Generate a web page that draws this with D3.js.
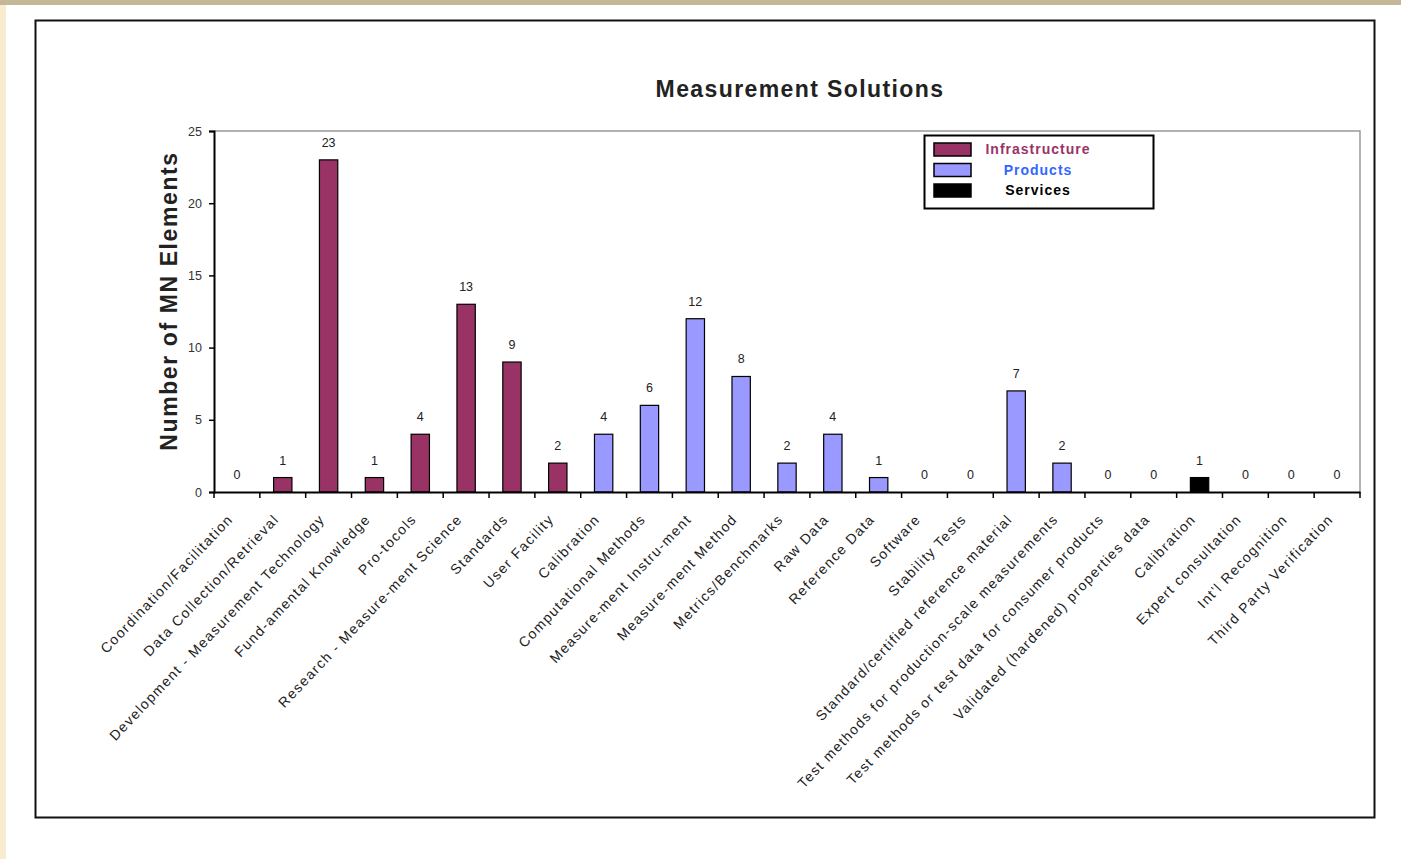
<!DOCTYPE html>
<html><head><meta charset="utf-8">
<script src="https://d3js.org/d3.v7.min.js"></script>
<style>
html,body{margin:0;padding:0;background:#fff;}
svg{display:block;font-family:Arial,"Liberation Sans",sans-serif;}
</style></head>
<body>
<svg id="chart" width="1401" height="859"></svg>
<script>
const categories = [
  "Coordination/Facilitation","Data Collection/Retrieval","Development - Measurement Technology",
  "Fund-amental Knowledge","Pro-tocols","Research - Measure-ment Science","Standards","User Facility",
  "Calibration","Computational Methods","Measure-ment Instru-ment","Measure-ment Method",
  "Metrics/Benchmarks","Raw Data","Reference Data","Software","Stability Tests",
  "Standard/certified reference material","Test methods for production-scale measurements",
  "Test methods or test data for consumer products","Validated (hardened) properties data",
  "Calibration","Expert consultation","Int'l Recognition","Third Party Verification"
];
const values = [0,1,23,1,4,13,9,2,4,6,12,8,2,4,1,0,0,7,2,0,0,1,0,0,0];
const groups = ["Infrastructure","Infrastructure","Infrastructure","Infrastructure","Infrastructure","Infrastructure","Infrastructure","Infrastructure",
  "Products","Products","Products","Products","Products","Products","Products","Products","Products","Products","Products","Products","Products",
  "Services","Services","Services","Services"];
const seriesNames = ["Infrastructure","Products","Services"];
const seriesColors = ["#993366","#9999ff","#000000"];
const legendTextColors = ["#993366","#3366ff","#000000"];
const yTicks = [0,5,10,15,20,25];

const svg = d3.select("#chart");
svg.append("rect").attr("x",0).attr("y",0).attr("width",1401).attr("height",859).attr("fill","#fff");
svg.append("rect").attr("x",0).attr("y",0).attr("width",6).attr("height",859).attr("fill","#f8ebcf");
svg.append("rect").attr("x",0).attr("y",0).attr("width",1401).attr("height",5).attr("fill","#c4b697");
svg.append("rect").attr("x",35.5).attr("y",20.5).attr("width",1339).attr("height",797)
  .attr("fill","#fff").attr("stroke","#111").attr("stroke-width",2);

const L=214, R=1360, T=131, B=492;
const x = d3.scaleBand().domain(d3.range(categories.length)).range([L,R]).paddingInner(0).paddingOuter(0);
const y = d3.scaleLinear().domain([0,25]).range([B,T]);
const color = d3.scaleOrdinal().domain(seriesNames).range(seriesColors);
const bw = x.bandwidth()/2.5;

svg.append("path").attr("d",`M${L},${T}H${R}V${B}`).attr("fill","none").attr("stroke","#999").attr("stroke-width",1.5);

svg.append("g").selectAll("rect").data(values).join("rect")
  .attr("x",(d,i)=>x(i)+x.bandwidth()/2-bw/2)
  .attr("y",d=>y(d))
  .attr("width",bw)
  .attr("height",d=>B-y(d))
  .attr("fill",(d,i)=>color(groups[i]))
  .attr("stroke","#000").attr("stroke-width",1.2)
  .attr("display",d=>d>0?null:"none");

svg.append("g").selectAll("text").data(values).join("text")
  .attr("x",(d,i)=>x(i)+x.bandwidth()/2)
  .attr("y",d=>y(d)-13)
  .attr("text-anchor","middle")
  .attr("font-size",12.5).attr("fill","#222")
  .text(d=>d);

const yAxis = svg.append("g").attr("transform",`translate(${L},0)`)
  .call(d3.axisLeft(y).tickValues(yTicks).tickSize(5).tickPadding(7));
yAxis.select(".domain").attr("stroke","#000").attr("stroke-width",2);
yAxis.selectAll(".tick line").attr("stroke","#000").attr("stroke-width",1.5);
yAxis.selectAll("text").attr("font-size",12.5).attr("fill","#333").attr("font-family","Arial, Liberation Sans, sans-serif");

const xAxis = svg.append("g").attr("transform",`translate(0,${B})`)
  .call(d3.axisBottom(x).tickSize(0).tickFormat(""));
xAxis.select(".domain").attr("stroke","#000").attr("stroke-width",2);
const bounds = d3.range(categories.length+1).map(i=> i<categories.length ? x(i) : R);
svg.append("g").selectAll("line").data(bounds).join("line")
  .attr("x1",d=>d).attr("x2",d=>d).attr("y1",B).attr("y2",B+6)
  .attr("stroke","#000").attr("stroke-width",1.5);

svg.append("g").selectAll("text").data(categories).join("text")
  .attr("transform",(d,i)=>`translate(${x(i)+x.bandwidth()/2-3},${B+28}) rotate(-46.5)`)
  .attr("text-anchor","end")
  .attr("font-size",14).attr("letter-spacing",1.4).attr("fill","#222")
  .text(d=>d);

svg.append("text").attr("x",800).attr("y",97).attr("text-anchor","middle")
  .attr("font-size",23).attr("letter-spacing",1.4).attr("font-weight","bold").attr("fill","#222").text("Measurement Solutions");
svg.append("text").attr("transform","translate(177,301) rotate(-90)").attr("text-anchor","middle")
  .attr("font-size",23).attr("letter-spacing",1.6).attr("font-weight","bold").attr("fill","#222").text("Number of MN Elements");

const lg = svg.append("g");
lg.append("rect").attr("x",924.5).attr("y",135.5).attr("width",229).attr("height",73)
  .attr("fill","#fff").attr("stroke","#000").attr("stroke-width",2);
seriesNames.forEach((s,i)=>{
  lg.append("rect").attr("x",934).attr("y",143+i*20.5).attr("width",37).attr("height",13)
    .attr("fill",seriesColors[i]).attr("stroke","#000").attr("stroke-width",1.5);
  lg.append("text").attr("x",1038).attr("y",154+i*20.5).attr("text-anchor","middle")
    .attr("font-size",14).attr("letter-spacing",1).attr("font-weight","bold").attr("fill",legendTextColors[i]).text(s);
});
</script>
</body></html>
